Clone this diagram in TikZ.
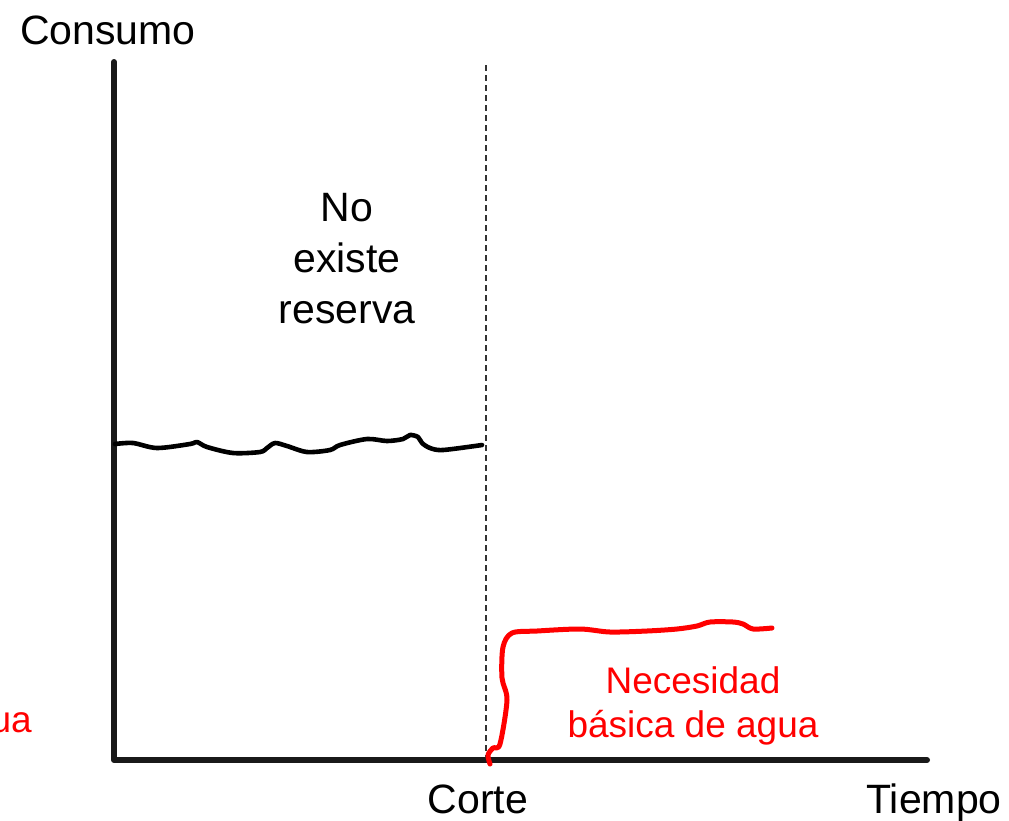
\documentclass[tikz,border=0pt]{standalone}
\usepackage{fontspec}
\setmainfont{Liberation Sans}
\begin{document}
\begin{tikzpicture}[x=1pt,y=-1pt,
  axis/.style={line width=6pt,color=black!90,line cap=round,line join=round},
  lbl/.style={font=\fontsize{41}{51}\selectfont,inner sep=0pt,align=center},
  redlbl/.style={font=\fontsize{37}{44}\selectfont,text=red,inner sep=0pt,align=center},
  cut/.style={dashed,dash pattern=on 6pt off 4pt,line width=1.3pt,color=black!80},
  curve/.style={line width=4.6pt,line cap=round,line join=round}]
\useasboundingbox (0,0) rectangle (1009,820);
\coordinate (top) at (114,62);
\coordinate (origin) at (114,760);
\coordinate (xend) at (927,760);
\coordinate (cuttop) at (486,65);
\coordinate (cutbot) at (486,760);
\draw[cut] (cuttop) -- (cutbot);
\draw[axis] (top) -- (origin) -- (xend);
\node[lbl,anchor=base] (consumo) at (108,44) {Consumo};
\node[lbl,anchor=base] (tiempo) at (934,813) {Tiempo};
\node[lbl,anchor=base] (corte) at (478,813) {Corte};
\node[lbl,anchor=base] (noexiste) at (347,323) {No\\existe\\reserva};
\node[redlbl,anchor=base] (necesidad) at (693,737) {Necesidad\\básica de agua};
\node[redlbl,anchor=base east] (ua) at (32,732) {ua};
\draw[curve] plot[smooth,tension=0.5] coordinates {
 (115,444) (133,443) (157,448) (190,444) (197,442) (207,447) (233,453) (260,452)
 (267,448) (275,443) (287,446) (307,452) (330,450) (340,445) (367,439) (387,441)
 (403,439) (410,435) (418,437) (422,443) (430,448) (443,450) (482,445)};
\draw[curve,red,line width=5pt] plot[smooth,tension=0.5] coordinates {
 (490,764) (488,755) (493,748) (500,744) (507,700) (502,678) (503,647) (512,633)
 (537,631) (580,629) (610,632) (647,631) (677,629) (697,626) (710,622) (733,622)
 (743,624) (753,629) (772,628)};
\end{tikzpicture}
\end{document}
